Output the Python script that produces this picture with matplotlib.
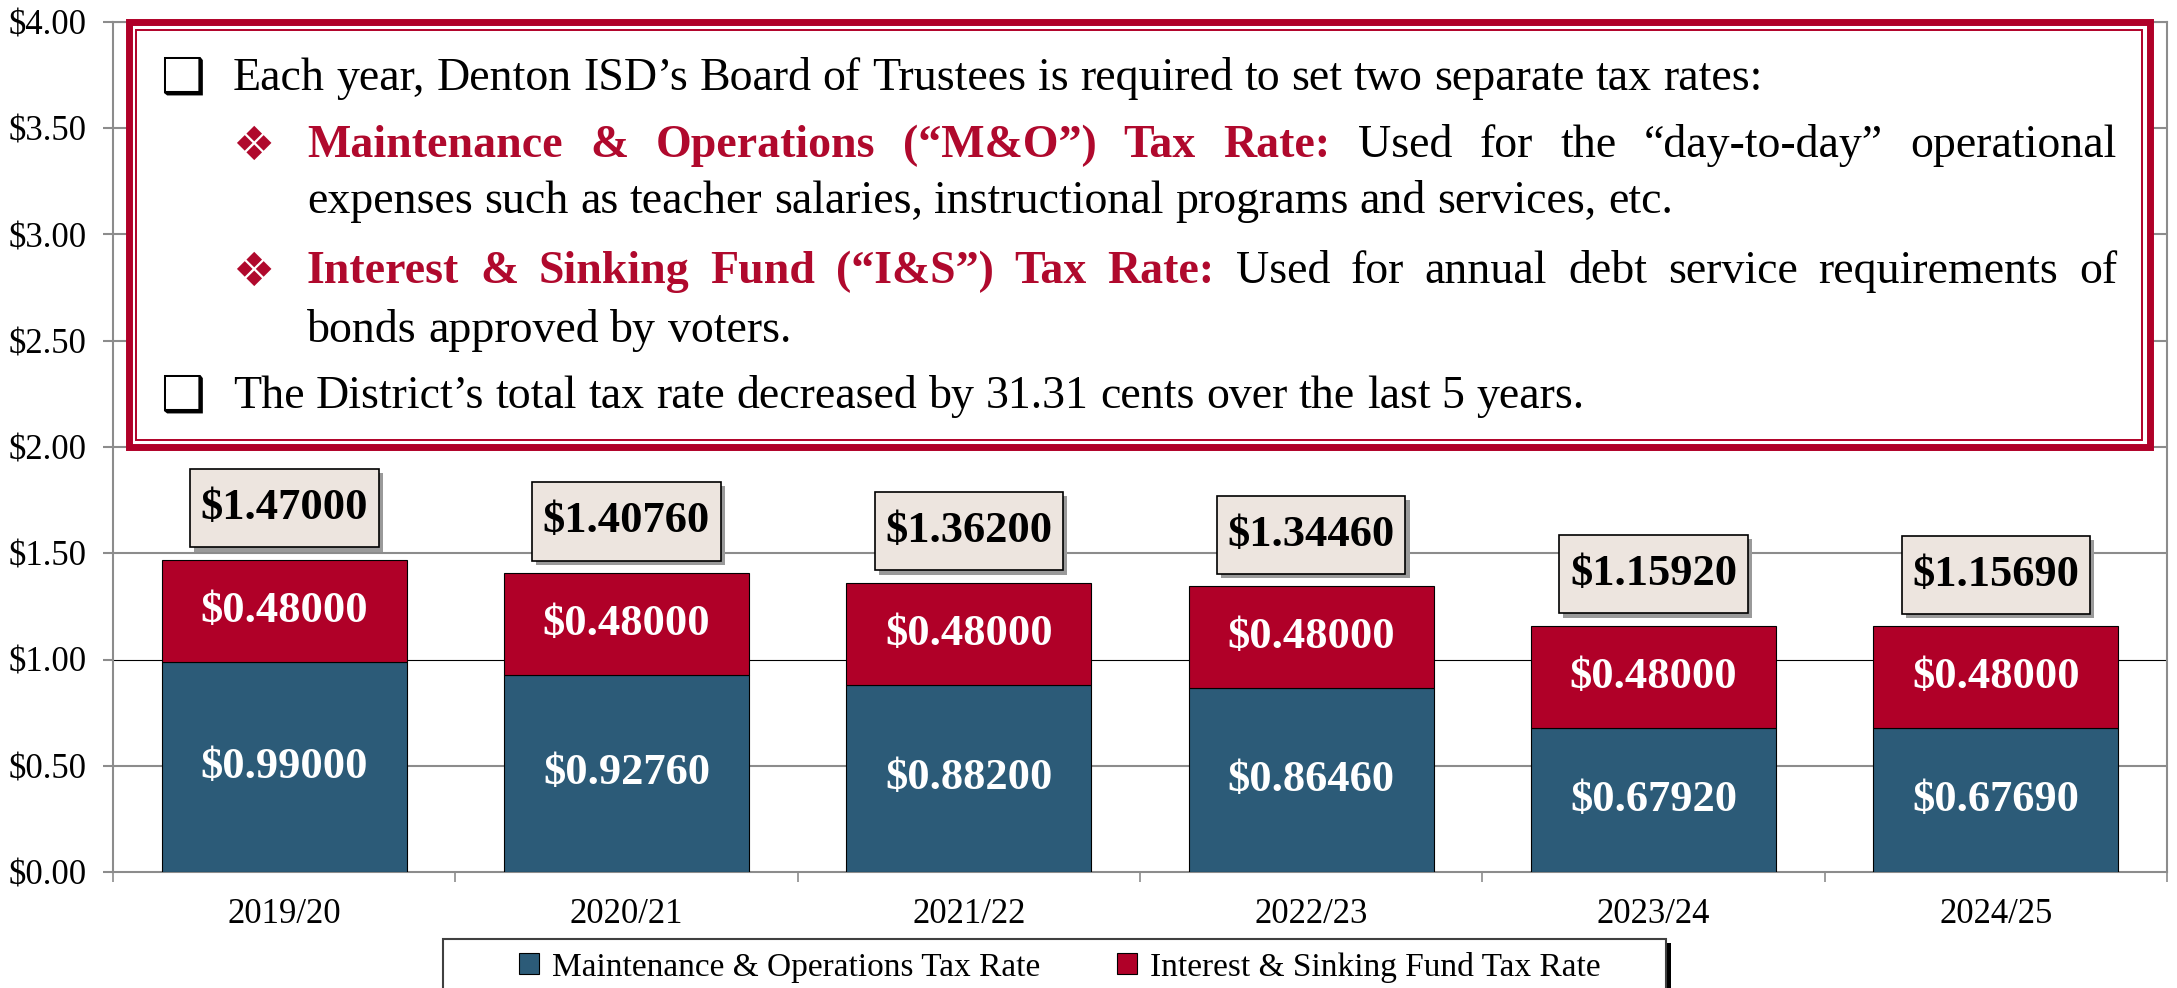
import matplotlib
matplotlib.use('Agg')
import matplotlib.pyplot as plt
from matplotlib.patches import Rectangle, Patch
from matplotlib import patheffects as pe
import numpy as np

# Datos de la gráfica (tasas por año fiscal)
years = ['2019/20', '2020/21', '2021/22', '2022/23', '2023/24', '2024/25']
mo_rate = [0.99000, 0.92760, 0.88200, 0.86460, 0.67920, 0.67690]
is_rate = [0.48000, 0.48000, 0.48000, 0.48000, 0.48000, 0.48000]
total_rate = [1.47000, 1.40760, 1.36200, 1.34460, 1.15920, 1.15690]
series_names = ['Maintenance & Operations Tax Rate', 'Interest & Sinking Fund Tax Rate']

BLUE = '#2C5B78'
RED = '#B00028'
TEXT_RED = '#B0092D'
GRID = '#8C8C8C'
BEIGE = '#EDE5DF'

W, H = 2177, 988
plt.rcParams['font.family'] = ['Liberation Serif', 'DejaVu Sans']
fig = plt.figure(figsize=(W / 100, H / 100), dpi=100)


def fx(px):
    return px / W


def fy(py):
    return 1 - py / H


# Ejes principales
ax = fig.add_axes([fx(113), fy(872), fx(2167) - fx(113), fy(22) - fy(872)])
x = np.arange(len(years))
ax.bar(x, mo_rate, width=0.715, color=BLUE, edgecolor='black', linewidth=0.8, zorder=3)
ax.bar(x, is_rate, bottom=mo_rate, width=0.715, color=RED, edgecolor='black', linewidth=0.8, zorder=3)

ax.set_xlim(-0.5, len(years) - 0.5)
ax.set_ylim(0, 4)
yt = np.arange(0, 4.01, 0.5)
for v in yt[1:]:
    if v == 1.0:
        ax.axhline(v, color='black', linewidth=0.8, zorder=1)
    else:
        ax.axhline(v, color=GRID, linewidth=1.5, zorder=1)

ax.set_yticks(yt)
ax.set_yticklabels([f'${v:.2f}' for v in yt])
ax.tick_params(axis='y', length=7.2, width=1.5, color=GRID, labelsize=25, pad=12)
ax.set_xticks(x)
ax.set_xticklabels(years)
ax.tick_params(axis='x', which='major', length=0, labelsize=25, pad=19)
ax.set_xticks(np.arange(-0.5, len(years), 1), minor=True)
ax.tick_params(axis='x', which='minor', length=7.2, width=1.2, color=GRID)
for s in ax.spines.values():
    s.set_color(GRID)
    s.set_linewidth(1.5)

# Etiquetas de segmento y totales
for i in range(len(years)):
    ax.text(i, mo_rate[i] / 2, f'${mo_rate[i]:.5f}', ha='center', va='center',
            color='white', fontsize=32, fontweight='bold', zorder=4)
    ax.text(i, mo_rate[i] + is_rate[i] / 2, f'${is_rate[i]:.5f}', ha='center', va='center',
            color='white', fontsize=32, fontweight='bold', zorder=4)
    ann = ax.annotate(f'${total_rate[i]:.5f}', xy=(i, total_rate[i]), xytext=(0, 37),
                      textcoords='offset points', ha='center', va='center',
                      fontsize=32, fontweight='bold', color='black', zorder=5,
                      bbox=dict(boxstyle='square,pad=0.24', fc=BEIGE, ec='black', lw=1.2,
                                mutation_aspect=1.8))
    ann.get_bbox_patch().set_path_effects(
        [pe.SimplePatchShadow(offset=(3, -3), shadow_rgbFace='#9A9A9A', alpha=1), pe.Normal()])

# Recuadro rojo con el texto explicativo
fig.add_artist(Rectangle((fx(128.5), fy(447.5)), fx(2149.5) - fx(128.5), fy(22.5) - fy(447.5),
                         transform=fig.transFigure, fc='white', ec=RED, lw=5, zorder=6))
fig.add_artist(Rectangle((fx(136), fy(440)), fx(2142) - fx(136), fy(30) - fy(440),
                         transform=fig.transFigure, fc='none', ec=RED, lw=1.4, zorder=7))

renderer = fig.canvas.get_renderer()
BOX_FS = 33


def put_line(segments, x0, y, x1=None):
    words = []
    for txt, bold, col in segments:
        for w in txt.split():
            words.append((w, bold, col))
    arts = []
    for w, bold, col in words:
        t = fig.text(fx(x0), fy(y), w, fontsize=BOX_FS, fontweight='bold' if bold else 'normal',
                     color=col, va='baseline', ha='left', zorder=8)
        arts.append(t)
    widths = [a.get_window_extent(renderer).width for a in arts]
    gap = 0.25 * BOX_FS * 100 / 72
    if x1 is not None and len(arts) > 1:
        gap = (x1 - x0 - sum(widths)) / (len(arts) - 1)
    pos = x0
    for a, wd in zip(arts, widths):
        a.set_x(fx(pos))
        pos += wd + gap


def checkbox(y):
    fig.text(fx(160), fy(y), '\u2751', family='DejaVu Sans', fontsize=36,
             color='black', va='baseline', ha='left', zorder=8)


def diamond(y):
    fig.text(fx(232), fy(y), '\u2756', family='DejaVu Sans', fontsize=34,
             color=TEXT_RED, va='baseline', ha='left', zorder=8)


checkbox(93)
put_line([('Each year, Denton ISD\u2019s Board of Trustees is required to set two separate tax rates:', False, 'black')], 233, 90)
diamond(160)
put_line([('Maintenance & Operations (\u201cM&O\u201d) Tax Rate:', True, TEXT_RED),
          ('Used for the \u201cday-to-day\u201d operational', False, 'black')], 307, 157, 2117)
put_line([('expenses such as teacher salaries, instructional programs and services, etc.', False, 'black')], 307, 213)
diamond(286)
put_line([('Interest & Sinking Fund (\u201cI&S\u201d) Tax Rate:', True, TEXT_RED),
          ('Used for annual debt service requirements of', False, 'black')], 307, 283, 2117)
put_line([('bonds approved by voters.', False, 'black')], 307, 342)
checkbox(411)
put_line([('The District\u2019s total tax rate decreased by 31.31 cents over the last 5 years.', False, 'black')], 233, 408)

# Leyenda con marco y sombra
fig.add_artist(Rectangle((fx(448), fy(1010)), fx(1671) - fx(448), fy(943) - fy(1010),
                         transform=fig.transFigure, fc='black', ec='none', zorder=2))
fig.add_artist(Rectangle((fx(443), fy(1005)), fx(1666) - fx(443), fy(939) - fy(1005),
                         transform=fig.transFigure, fc='white', ec='#404040', lw=1.5, zorder=3))
handles = [Patch(facecolor=BLUE, edgecolor='black', linewidth=0.8),
           Patch(facecolor=RED, edgecolor='black', linewidth=0.8)]
fig.legend(handles, series_names, loc='center', bbox_to_anchor=(fx(1060), fy(967)), ncol=2,
           frameon=False, fontsize=24, handlelength=0.6, handleheight=0.6,
           handletextpad=0.4, columnspacing=2.3).set_zorder(5)

fig.savefig('out.png', dpi=100)
